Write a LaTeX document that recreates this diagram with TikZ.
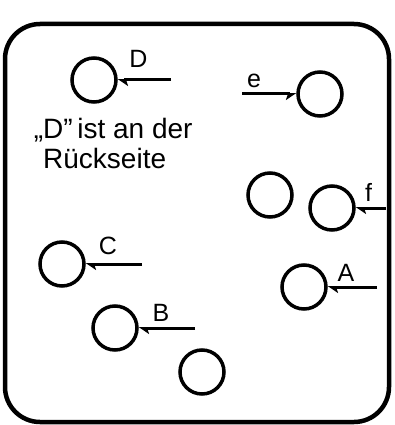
\documentclass[tikz,border=0pt]{standalone}
\usepackage{fontspec}
\setmainfont{Liberation Sans}[Ligatures=ResetAll]
\usetikzlibrary{arrows.meta}
\begin{document}
\begin{tikzpicture}[x=1pt, y=-1pt,
    hole/.style={draw, circle, line width=3.5pt, minimum size=44pt, inner sep=0pt},
    lbl/.style={font=\fontsize{25}{30}\selectfont, inner sep=0pt},
    note/.style={font=\fontsize{28}{30}\selectfont, align=left, inner sep=0pt},
    pinL/.style={line width=3pt, -{Stealth[harpoon, length=9pt, width=12pt, inset=2pt]}},
    pinR/.style={line width=3pt, -{Stealth[harpoon, swap, length=9pt, width=12pt, inset=2pt]}}]
  \useasboundingbox (0,0) rectangle (394,425);
  % frame
  \draw[line width=4.5pt, rounded corners=35pt] (5,24) rectangle (389,422);
  % holes
  \node[hole] (holeD) at (94,80) {};
  \node[hole] (holeE) at (320,94) {};
  \node[hole] (holeX) at (270,195) {};
  \node[hole] (holeF) at (332,208) {};
  \node[hole] (holeC) at (62,264) {};
  \node[hole] (holeA) at (304,287) {};
  \node[hole] (holeB) at (115,328) {};
  \node[hole] (holeY) at (202,372) {};
  % free ends
  \coordinate (endD) at (171,80);
  \coordinate (endE) at (242,94);
  \coordinate (endF) at (386,208);
  \coordinate (endC) at (142,264);
  \coordinate (endA) at (377,287);
  \coordinate (endB) at (195,328);
  % pointers
  \draw[pinL] (endD) -- (holeD.east);
  \draw[pinR] (endE) -- (holeE.west);
  \draw[pinL] (endF) -- (holeF.east);
  \draw[pinL] (endC) -- (holeC.east);
  \draw[pinL] (endA) -- (holeA.east);
  \draw[pinL] (endB) -- (holeB.east);
  % labels
  \node[lbl] (lblD) at (138.5,59) {D};
  \node[lbl] (lblE) at (254,81) {e};
  \node[lbl] (lblF) at (368.5,192.5) {f};
  \node[lbl] (lblC) at (108,246) {C};
  \node[lbl] (lblA) at (346,272.5) {A};
  \node[lbl] (lblB) at (161,312.5) {B};
  % note (base = last line)
  \node[note, anchor=base west] (back) at (43,168) {\llap{„}D"\,ist an der\\Rückseite};
\end{tikzpicture}
\end{document}
